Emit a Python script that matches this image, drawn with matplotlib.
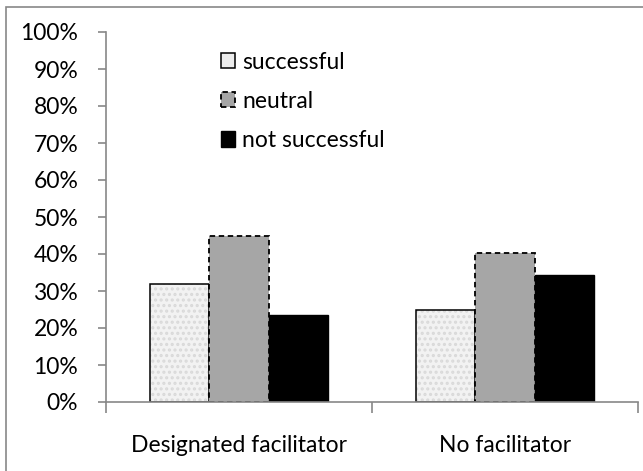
import numpy as np
import matplotlib.pyplot as plt
from matplotlib.patches import Rectangle, Patch
from matplotlib.ticker import PercentFormatter

plt.rcParams['font.family'] = ['Lato', 'DejaVu Sans']
plt.rcParams['hatch.linewidth'] = 1.5

groups = ["Designated facilitator", "No facilitator"]
series = ["successful", "neutral", "not successful"]
successful = [31.8, 24.9]
neutral = [44.8, 40.4]
not_successful = [23.6, 34.2]

fs = 16.5

fig = plt.figure(figsize=(6.43, 4.71), dpi=100)
ax = fig.add_axes([106/643, 1 - 402/471, 532/643, 370/471])

# grey frame around the chart area (only top and left fall inside the image)
fig.add_artist(Rectangle((6/643, -0.05), 1.1, 1 - 7/471 + 0.05,
                         transform=fig.transFigure, fill=False,
                         edgecolor='#878787', linewidth=1.2))

x = np.arange(len(groups))
w = 0.222

# speckled light fill: hatch drawn in the edge colour, outline added on top
ax.bar(x - w, successful, w, facecolor='#f2f2f2', edgecolor='#d9d9d9',
       linewidth=0, hatch='...')
ax.bar(x - w, successful, w, fill=False, edgecolor='black', linewidth=1.1)
ax.bar(x, neutral, w, facecolor='#a6a6a6', edgecolor='black',
       linewidth=1.3, linestyle=(0, (3, 2)))
ax.bar(x + w, not_successful, w, facecolor='black', edgecolor='black',
       linewidth=1.0)

ax.set_xlim(-0.5, 1.5)
ax.set_ylim(0, 100)
ax.set_yticks(np.arange(0, 101, 10))
ax.yaxis.set_major_formatter(PercentFormatter(decimals=0))
ax.set_xticks([-0.5, 0.5, 1.5])
ax.set_xticklabels([])
ax.set_xticks(x, minor=True)
ax.set_xticklabels(groups, minor=True)
ax.tick_params(axis='x', which='minor', length=0, pad=24, labelsize=fs)
ax.tick_params(axis='x', which='major', direction='out', length=8,
               width=1.2, color='#878787')
ax.tick_params(axis='y', direction='out', length=6, width=1.2,
               color='#878787', pad=14, labelsize=fs)

for s in ['top', 'right']:
    ax.spines[s].set_visible(False)
for s in ['left', 'bottom']:
    ax.spines[s].set_color('#878787')
    ax.spines[s].set_linewidth(1.2)

handles = [
    Patch(facecolor='#ececec', edgecolor='black', linewidth=1.1),
    Patch(facecolor='#a6a6a6', edgecolor='black', linewidth=1.3,
          linestyle=(0, (3, 2))),
    Patch(facecolor='black', edgecolor='black', linewidth=1.0),
]
ax.legend(handles, series, loc='upper left', bbox_to_anchor=(0.198, 0.972),
          frameon=False, fontsize=fs, handlelength=0.65, handleheight=0.65,
          handletextpad=0.3, labelspacing=0.8, borderaxespad=0)

plt.savefig('out.png', dpi=100)
